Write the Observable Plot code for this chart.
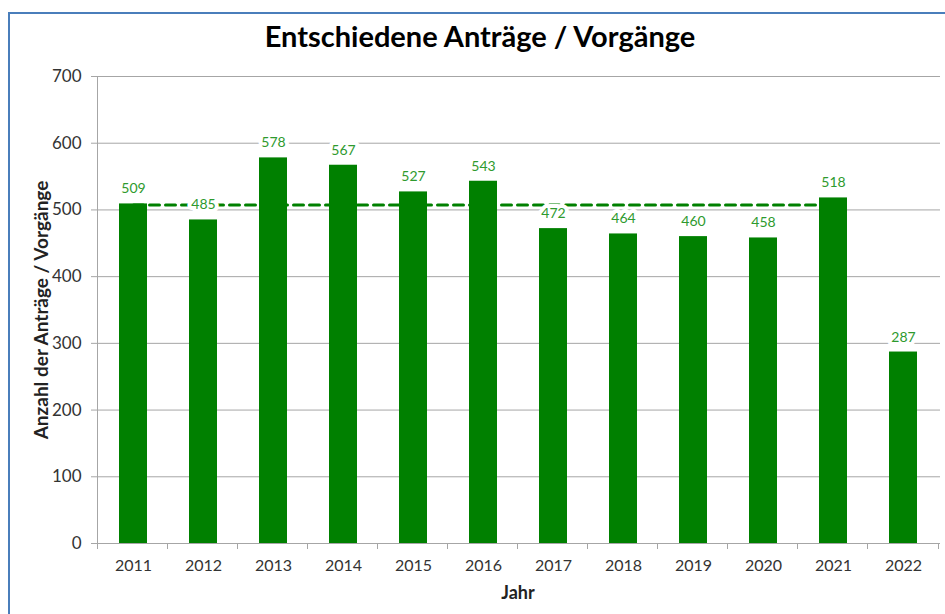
<!DOCTYPE html>
<html>
<head>
<meta charset="utf-8">
<script src="https://cdn.jsdelivr.net/npm/d3@7"></script>
<script src="https://cdn.jsdelivr.net/npm/@observablehq/plot@0.6"></script>
<style>
  html, body { margin: 0; padding: 0; background: #fff; overflow: hidden; }
  body { width: 945px; height: 614px; position: relative; font-family: Lato, "Open Sans", sans-serif; }
  #frame { position: absolute; left: 8px; top: 12px; width: 960px; height: 640px; border: 2px solid #4a7ebb; box-sizing: border-box; }
  #title { position: absolute; left: 0; width: 960px; top: 18px; text-align: center; font-weight: bold; font-size: 29px; color: #000; }
  #chart { position: absolute; left: 0; top: 0; }
  #xlabel { position: absolute; left: 96px; width: 844px; top: 581px; text-align: center; font-weight: bold; font-size: 18px; color: #222; }
  #ylabel { position: absolute; left: 40px; top: 310px; transform: translate(-50%, -50%) rotate(-90deg); white-space: nowrap; font-weight: bold; font-size: 19px; color: #222; }
</style>
</head>
<body>
<div id="frame"></div>
<div id="chart"></div>
<div id="title">Entschiedene Anträge / Vorgänge</div>
<div id="xlabel">Jahr</div>
<div id="ylabel">Anzahl der Anträge / Vorgänge</div>
<script>
const years = ["2011","2012","2013","2014","2015","2016","2017","2018","2019","2020","2021","2022"];
const values = [509, 485, 578, 567, 527, 543, 472, 464, 460, 458, 518, 287];
const avgYears = ["2011","2012","2013","2014","2015","2016","2017","2018","2019","2020","2021"];
const yTicks = [0, 100, 200, 300, 400, 500, 600, 700];

const data = years.map((y, i) => ({year: y, value: values[i]}));
const avgVal = d3.mean(avgYears.map(y => values[years.indexOf(y)]));
const avgData = avgYears.map(y => ({year: y, value: avgVal}));

const W = 945, H = 614, mL = 96, mR = 5, mT = 76, mB = 71;
const step = (W - mL - mR) / years.length;
const pxPerUnit = (H - mT - mB) / 700;

// vertical axis line + category separator ticks, drawn in pixel space from the x scale
function separators(index, scales, values, dims) {
  const g = d3.create("svg:g").attr("stroke", "#a6a6a6").attr("fill", "none");
  const x = scales.x, y = scales.y;
  const bwid = x.bandwidth();
  const y0 = y(0), yTop = y(700);
  const edges = years.map(yr => x(yr) + bwid / 2 - step / 2);
  edges.push(x(years[years.length - 1]) + bwid / 2 + step / 2);
  g.append("line").attr("x1", edges[0]).attr("x2", edges[0]).attr("y1", y0 + 6).attr("y2", yTop).attr("shape-rendering", "crispEdges");
  edges.forEach(e => g.append("line").attr("x1", e).attr("x2", e).attr("y1", y0).attr("y2", y0 + 6).attr("shape-rendering", "crispEdges"));
  return g.node();
}

const chart = Plot.plot({
  width: W,
  height: H,
  marginLeft: mL,
  marginRight: mR,
  marginTop: mT,
  marginBottom: mB,
  style: { fontFamily: "Lato, 'Open Sans', sans-serif", background: "transparent", overflow: "visible" },
  x: { type: "band", domain: years, paddingInner: 0.6, paddingOuter: 0.3, label: null },
  y: { domain: [0, 700], label: null },
  marks: [
    Plot.ruleY(yTicks, { stroke: "#a6a6a6", strokeWidth: 1 }),
    separators,
    Plot.lineY(avgData, { x: "year", y: "value", stroke: "#008000", strokeWidth: 3, strokeDasharray: "10,6" }),
    Plot.barY(data, { x: "year", y: "value", fill: "#008000" }),
    Plot.text(data, { x: "year", y: "value", text: d => String(d.value), dy: -15, fill: "#2e9a2e", stroke: "white", strokeWidth: 8, fontSize: 14 }),
    Plot.axisY({ ticks: yTicks, tickSize: 5, tickPadding: 10, fontSize: 17, color: "#333", stroke: "#a6a6a6", label: null }),
    Plot.axisX({ tickSize: 0, tickPadding: 16, fontSize: 16, color: "#333", label: null })
  ]
});
document.getElementById("chart").appendChild(chart);
</script>
</body>
</html>
